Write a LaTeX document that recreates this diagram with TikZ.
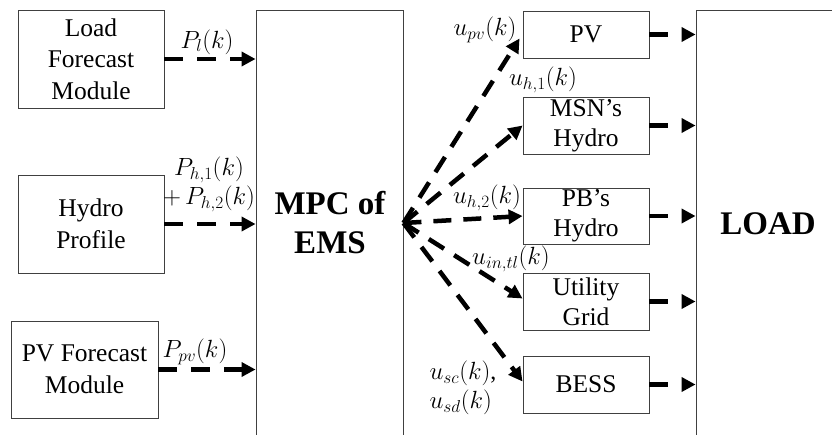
\documentclass[tikz,border=0pt]{standalone}
\usepackage{fontspec}
\setmainfont{Liberation Serif}
\usetikzlibrary{arrows.meta,calc}
\begin{document}
\begin{tikzpicture}[x=1pt,y=-1pt,
  box/.style={draw=black!75, line width=0.9pt, align=center, inner sep=0pt,
    font=\fontsize{25.5}{31.5}\selectfont},
  big/.style={align=center, inner sep=0pt, font=\fontsize{33}{39}\selectfont\bfseries},
  flow/.style={line width=4.5pt, dash pattern=on 19pt off 14pt,
    -{Triangle[length=14pt,width=14pt]}},
  diag/.style={line width=4.5pt, dash pattern=on 18pt off 12pt,
    -{Triangle[length=14pt,width=14pt]}},
  lbl/.style={inner sep=0pt, align=left, font=\fontsize{24}{29}\selectfont}]
\useasboundingbox (0,0) rectangle (832,434);
% left boxes
\node[box, minimum width=146pt, minimum height=98pt] (load) at (91,59) {Load\\Forecast\\Module};
\node[box, minimum width=146pt, minimum height=98pt] (hydro) at (91,224) {Hydro\\Profile};
\node[box, minimum width=147pt, minimum height=97pt] (pvf) at (84.5,369.5) {PV Forecast\\Module};
% MPC and LOAD
\node[box, minimum width=147pt, minimum height=426pt] (mpc) at (329.5,223) {};
\node[big] (mpct) at (330,223) {MPC of\\EMS};
\node[box, minimum width=144pt, minimum height=428pt] (ld) at (768,224) {};
\node[big] (ldt) at (768,224) {LOAD};
% right boxes
\node[box, minimum width=126pt, minimum height=47pt] (pv) at (586,34.5) {PV};
\node[box, minimum width=126pt, minimum height=57pt, font=\fontsize{25.5}{30}\selectfont] (msn) at (586,125.5) {MSN’s\\Hydro};
\node[box, minimum width=126pt, minimum height=56pt, font=\fontsize{25.5}{30}\selectfont] (pb) at (586,216) {PB’s\\Hydro};
\node[box, minimum width=126pt, minimum height=57pt, font=\fontsize{25.5}{30}\selectfont] (ut) at (586,301.5) {Utility\\Grid};
\node[box, minimum width=126pt, minimum height=57pt] (bess) at (586,384.5) {BESS};
% inputs
\draw[flow] (load.east) -- (load.east -| mpc.west);
\draw[flow] (hydro.east) -- (hydro.east -| mpc.west);
\draw[flow] (pvf.east) -- (pvf.east -| mpc.west);
\node[lbl] (l1) at (207,42) {$P_l(k)$};
\node[lbl, align=center] (l2) at (209,184) {$P_{h,1}(k)$\\$+\,P_{h,2}(k)$};
\node[lbl] (l3) at (195,352) {$P_{pv}(k)$};
% controls
\coordinate (hub) at (mpc.east);
\draw[diag] (hub) -- ($(pv.west)+(-3,4)$);
\draw[diag] (hub) -- (msn.west);
\draw[diag] (hub) -- (pb.west);
\draw[diag] (hub) -- ($(ut.west)+(0,-3)$);
\draw[diag] (hub) -- ($(bess.west)+(0,-3)$);
\node[lbl] (c1) at (485,30) {$u_{pv}(k)$};
\node[lbl] (c2) at (543,80) {$u_{h,1}(k)$};
\node[lbl] (c3) at (487,198) {$u_{h,2}(k)$};
\node[lbl] (c4) at (511,259) {$u_{in,tl}(k)$};
\node[lbl] (c5) at (463,388) {$u_{sc}(k)$,\\$u_{sd}(k)$};
% to load
\draw[flow] (pv.east) -- (pv.east -| ld.west);
\draw[flow] (msn.east) -- (msn.east -| ld.west);
\draw[flow] (pb.east) -- (pb.east -| ld.west);
\draw[flow] (ut.east) -- (ut.east -| ld.west);
\draw[flow] (bess.east) -- (bess.east -| ld.west);
\end{tikzpicture}
\end{document}
